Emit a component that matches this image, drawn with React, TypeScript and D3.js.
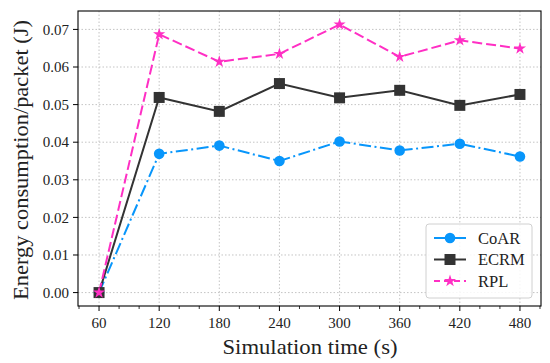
import { useMemo } from "react";
import { line, scaleLinear, symbol, symbolCircle, symbolSquare, symbolStar } from "d3";

const W = 550;
const H = 363;
const M = { top: 11, right: 9, bottom: 57, left: 78 };

const times = [60, 120, 180, 240, 300, 360, 420, 480];
const coar = [0, 0.0369, 0.0391, 0.035, 0.0402, 0.0378, 0.0396, 0.0362];
const ecrm = [0, 0.0519, 0.0482, 0.0556, 0.0518, 0.0538, 0.0498, 0.0527];
const rpl = [0, 0.0687, 0.0614, 0.0635, 0.0713, 0.0627, 0.0671, 0.0649];
const xTicks = [60, 120, 180, 240, 300, 360, 420, 480];
const xMinor = [40, 80, 100, 140, 160, 200, 220, 260, 280, 320, 340, 380, 400, 440, 460, 500];
const yTicks = [0, 0.01, 0.02, 0.03, 0.04, 0.05, 0.06, 0.07];

const FONT = "'Liberation Serif', 'DejaVu Serif', serif";

type S = { name: string; values: number[]; color: string; dash?: string; legendDash?: string; marker: "circle" | "square" | "star" };

const series: S[] = [
  { name: "CoAR", values: coar, color: "#0896fb", dash: "12 3.5 2 3.5", legendDash: "12 3.5 2 3.5", marker: "circle" },
  { name: "ECRM", values: ecrm, color: "#333333", marker: "square" },
  { name: "RPL", values: rpl, color: "#ff2fc4", dash: "10 4", legendDash: "6 4", marker: "star" },
];

const markerPath = (m: S["marker"]) => {
  if (m === "circle") return symbol(symbolCircle, Math.PI * 5.3 * 5.3)() ?? "";
  if (m === "square") return symbol(symbolSquare, 11 * 11)() ?? "";
  return symbol(symbolStar, 46)() ?? "";
};

export default function App() {
  const x = useMemo(() => scaleLinear().domain([39, 501]).range([M.left, W - M.right]), []);
  const y = useMemo(() => scaleLinear().domain([-0.00357, 0.0749]).range([H - M.bottom, M.top]), []);
  const path = line<number>()
    .x((_, i) => x(times[i]))
    .y((d) => y(d));

  const x0 = M.left;
  const x1 = W - M.right;
  const y0 = H - M.bottom;
  const y1 = M.top;

  // legend box
  const L = { x: 426, y: 224, w: 106, h: 74 };

  return (
    <svg width={W} height={H} style={{ position: "absolute", left: 0, top: 0 }} fontFamily={FONT}>
      <rect width={W} height={H} fill="#fff" />

      {/* grid */}
      {xTicks.map((t) => (
        <line key={"gx" + t} x1={x(t)} x2={x(t)} y1={y1} y2={y0} stroke="#bdbdbd" strokeWidth={0.9} strokeDasharray="1.5 2" />
      ))}
      {yTicks.map((t) => (
        <line key={"gy" + t} x1={x0} x2={x1} y1={y(t)} y2={y(t)} stroke="#bdbdbd" strokeWidth={0.9} strokeDasharray="1.5 2" />
      ))}

      {/* lines */}
      {series.map((s) => (
        <path key={s.name} d={path(s.values) ?? ""} fill="none" stroke={s.color} strokeWidth={2} strokeDasharray={s.dash} />
      ))}
      {series.map((s) =>
        s.values.map((v, i) => (
          <path
            key={s.name + i}
            d={markerPath(s.marker)}
            transform={`translate(${x(times[i])},${y(v)})`}
            fill={s.color}
          />
        ))
      )}

      {/* frame */}
      <rect x={x0} y={y1} width={x1 - x0} height={y0 - y1} fill="none" stroke="#000" strokeWidth={1.1} />

      {/* x axis ticks */}
      {xTicks.map((t) => (
        <g key={"xt" + t}>
          <line x1={x(t)} x2={x(t)} y1={y0} y2={y0 + 5} stroke="#000" strokeWidth={1} />
          <text x={x(t)} y={y0 + 22} textAnchor="middle" fontSize={15} fill="#222">
            {t}
          </text>
        </g>
      ))}
      {xMinor.map((t) => (
        <line key={"xm" + t} x1={x(t)} x2={x(t)} y1={y0} y2={y0 + 3} stroke="#000" strokeWidth={0.8} />
      ))}

      {/* y axis ticks */}
      {yTicks.map((t) => (
        <g key={"yt" + t}>
          <line x1={x0 - 5} x2={x0} y1={y(t)} y2={y(t)} stroke="#000" strokeWidth={1} />
          <text x={x0 - 9} y={y(t)} dy="0.35em" textAnchor="end" fontSize={15} fill="#222">
            {t.toFixed(2)}
          </text>
        </g>
      ))}

      {/* axis labels */}
      <text x={310} y={354} textAnchor="middle" fontSize={21} fill="#222" textLength={175} lengthAdjust="spacingAndGlyphs">
        Simulation time (s)
      </text>
      <text
        transform={`translate(28,${160}) rotate(-90)`}
        textAnchor="middle"
        fontSize={21}
        fill="#222"
        textLength={280}
        lengthAdjust="spacingAndGlyphs"
      >
        Energy consumption/packet (J)
      </text>

      {/* legend */}
      <rect x={L.x} y={L.y} width={L.w} height={L.h} rx={3} fill="#fff" fillOpacity={0.85} stroke="#d0d0d0" strokeWidth={1} />
      {series.map((s, i) => {
        const ly = 238 + i * 21.5;
        return (
          <g key={"lg" + s.name}>
            <line x1={434} x2={466} y1={ly} y2={ly} stroke={s.color} strokeWidth={2} strokeDasharray={s.legendDash} />
            <path d={markerPath(s.marker)} transform={`translate(450,${ly})`} fill={s.color} />
            <text x={478} y={ly} dy="0.35em" fontSize={16.5} fill="#222">
              {s.name}
            </text>
          </g>
        );
      })}
    </svg>
  );
}
